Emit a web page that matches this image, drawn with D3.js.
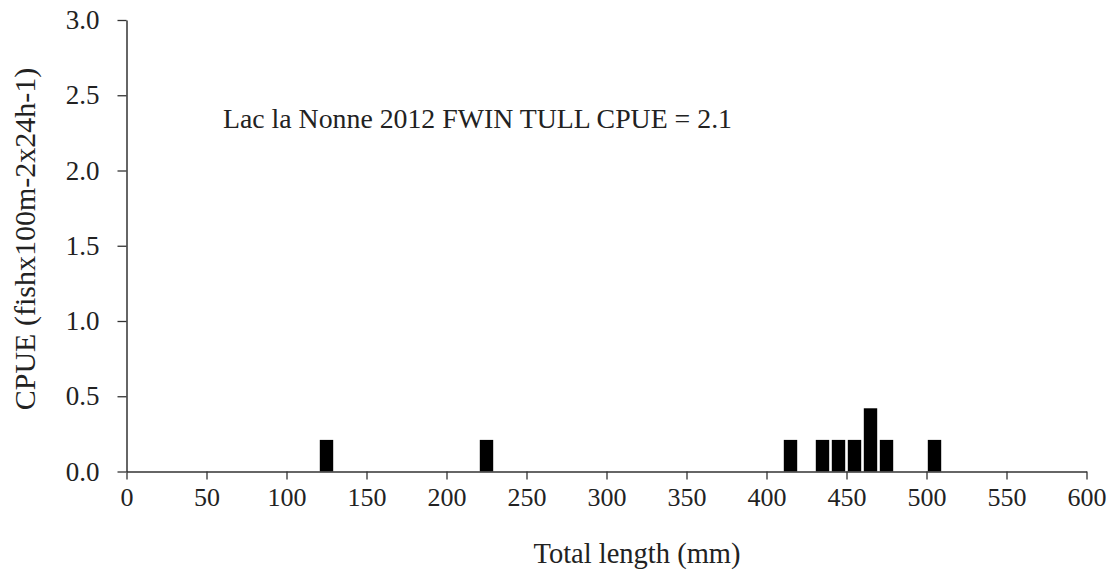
<!DOCTYPE html>
<html>
<head>
<meta charset="utf-8">
<script src="https://cdn.jsdelivr.net/npm/d3@7"></script>
<style>
  body { margin: 0; background: #fff; }
  svg { display: block; }
  text { font-family: "Liberation Serif", "DejaVu Serif", serif; fill: #222; }
</style>
</head>
<body>
<svg id="chart" width="1120" height="575"></svg>
<script>
// Length bins (lower edge, mm), 10 mm wide
const binStarts = [120, 220, 410, 430, 440, 450, 460, 470, 500];
const cpueValues = [0.21, 0.21, 0.21, 0.21, 0.21, 0.21, 0.42, 0.21, 0.21];
const binWidth = 10;
const xTicks = [0, 50, 100, 150, 200, 250, 300, 350, 400, 450, 500, 550, 600];
const yTicks = [0.0, 0.5, 1.0, 1.5, 2.0, 2.5, 3.0];
const titleText = "Lac la Nonne 2012 FWIN TULL CPUE = 2.1";
const xTitle = "Total length (mm)";
const yTitle = "CPUE (fishx100m-2x24h-1)";

const svg = d3.select("#chart");
const mLeft = 126.5, mRight = 1086.5, mTop = 20, mBottom = 471.5;

const x = d3.scaleLinear().domain([0, 600]).range([mLeft, mRight]);
const y = d3.scaleLinear().domain([0, 3]).range([mBottom, mTop]);

// bars
svg.append("g").selectAll("rect")
  .data(binStarts.map((b, i) => ({b, v: cpueValues[i]})))
  .join("rect")
  .attr("x", d => x(d.b) + 1.3)
  .attr("width", d => x(d.b + binWidth) - x(d.b) - 2.6)
  .attr("y", d => y(d.v))
  .attr("height", d => y(0) - y(d.v))
  .attr("fill", "#000");

// x axis
const xAxis = d3.axisBottom(x).tickValues(xTicks).tickFormat(d3.format("d")).tickSize(8).tickSizeOuter(0);
const gx = svg.append("g").attr("transform", `translate(0,${mBottom})`).call(xAxis);
gx.select(".domain").attr("stroke", "#333").attr("stroke-width", 1.5);
gx.selectAll(".tick line").attr("stroke", "#333").attr("stroke-width", 1.3);
gx.selectAll(".tick text").attr("font-size", 26).attr("y", 16).attr("dy", "0.71em")
  .style("font-family", "'Liberation Serif', serif").attr("fill", "#222");

// y axis
const yAxis = d3.axisLeft(y).tickValues(yTicks).tickFormat(d3.format(".1f")).tickSize(9).tickSizeOuter(0);
const gy = svg.append("g").attr("transform", `translate(${mLeft},0)`).call(yAxis);
gy.select(".domain").attr("stroke", "#333").attr("stroke-width", 1.5);
gy.selectAll(".tick line").attr("stroke", "#333").attr("stroke-width", 1.3);
gy.selectAll(".tick text").attr("font-size", 27).attr("x", -27)
  .style("font-family", "'Liberation Serif', serif").attr("fill", "#222");

// annotation
svg.append("text").attr("x", 223).attr("y", 128).attr("font-size", 27.8).text(titleText);

// axis titles
svg.append("text").attr("x", 637).attr("y", 563).attr("text-anchor", "middle").attr("font-size", 28.5).text(xTitle);
svg.append("text").attr("transform", "translate(35,239) rotate(-90)").attr("text-anchor", "middle")
  .attr("font-size", 30).text(yTitle);
</script>
</body>
</html>
